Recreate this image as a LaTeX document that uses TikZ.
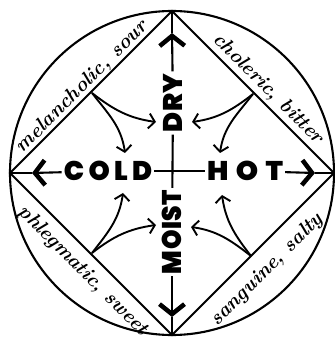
\documentclass[tikz,border=0pt]{standalone}
\usepackage{fontspec}
\usepackage{graphicx}
\usetikzlibrary{arrows.meta}
\newfontfamily\blockfont{Poppins Black}
\newcommand\blk[3]{{\addfontfeature{LetterSpace=#1}\scalebox{#2}[1]{#3}}}
\begin{document}
\begin{tikzpicture}[x=1pt,y=1pt,
  frame/.style={line width=2.1pt},
  axis/.style={line width=2.1pt},
  bigarrow/.style={axis,-{Straight Barb[length=10pt,width=25pt,line width=4.5pt]}},
  curved/.style={line width=1.9pt,-{Straight Barb[length=6pt,width=15pt]}},
  word/.style={inner sep=2pt,font=\blockfont\fontsize{27}{27}\selectfont},
  temper/.style={inner sep=0pt,font=\bfseries\itshape\fontsize{20}{20}\selectfont}]
\useasboundingbox (-172,-166) rectangle (162,173);
% vertices and circle
\coordinate (vT) at (0,162);
\coordinate (vL) at (-162,0);
\coordinate (vB) at (0,-162);
\coordinate (vR) at (162,0);
\draw[frame] (0,0) circle[radius=162];
\draw[frame] (vT) -- (vL) -- (vB) -- (vR) -- cycle;
% qualities
\node[word] (cold) at (-64,2) {\blk{16}{1}{COLD}};
\node[word] (hot) at (73,2) {\blk{26}{1.05}{HOT}};
\node[word,rotate=90] (dry) at (1,70) {\blk{2}{1}{DRY}};
\node[word,rotate=90] (moist) at (0,-59) {\blk{2}{0.92}{MOIST}};
% arrow tips of the axes
\coordinate (tipL) at (-140,0);
\coordinate (tipR) at (143,0);
\coordinate (tipT) at (0,140);
\coordinate (tipB) at (0,-144);
\draw[bigarrow] (cold) -- (tipL);
\draw[axis] (tipL) -- (vL);
\draw[bigarrow] (hot) -- (tipR);
\draw[axis] (tipR) -- (vR);
\draw[bigarrow] (dry) -- (tipT);
\draw[axis] (tipT) -- (vT);
\draw[bigarrow] (moist) -- (tipB);
\draw[axis] (tipB) -- (vB);
\draw[axis] (cold) -- (hot);
\draw[axis] (dry) -- (moist);
% temperaments
\node[temper,rotate=45] (mel) at (-90,86) {melancholic, sour};
\node[temper,rotate=-45] (cho) at (96,84) {choleric, bitter};
\node[temper,rotate=-45] (phl) at (-89,-98) {phlegmatic, sweet};
\node[temper,rotate=45] (san) at (95,-97) {sanguine, salty};
% curved arrows
\coordinate (mUL) at (-80,80);
\coordinate (mUR) at (81,79);
\coordinate (mLL) at (-80,-80);
\coordinate (mLR) at (79,-83);
\coordinate (eULd) at (-16,51);
\coordinate (eULc) at (-47,20);
\coordinate (eURd) at (20,51);
\coordinate (eURh) at (48,20);
\coordinate (eLLc) at (-49,-20);
\coordinate (eLLm) at (-16,-52);
\coordinate (eLRh) at (50,-22);
\coordinate (eLRm) at (19,-54);
\draw[curved] (mUL) to[out=-38,in=172] (eULd);
\draw[curved] (mUL) to[out=-52,in=98] (eULc);
\draw[curved] (mUR) to[out=-142,in=8] (eURd);
\draw[curved] (mUR) to[out=-128,in=82] (eURh);
\draw[curved] (mLL) to[out=52,in=-98] (eLLc);
\draw[curved] (mLL) to[out=38,in=-172] (eLLm);
\draw[curved] (mLR) to[out=128,in=-82] (eLRh);
\draw[curved] (mLR) to[out=142,in=-8] (eLRm);
\end{tikzpicture}
\end{document}
